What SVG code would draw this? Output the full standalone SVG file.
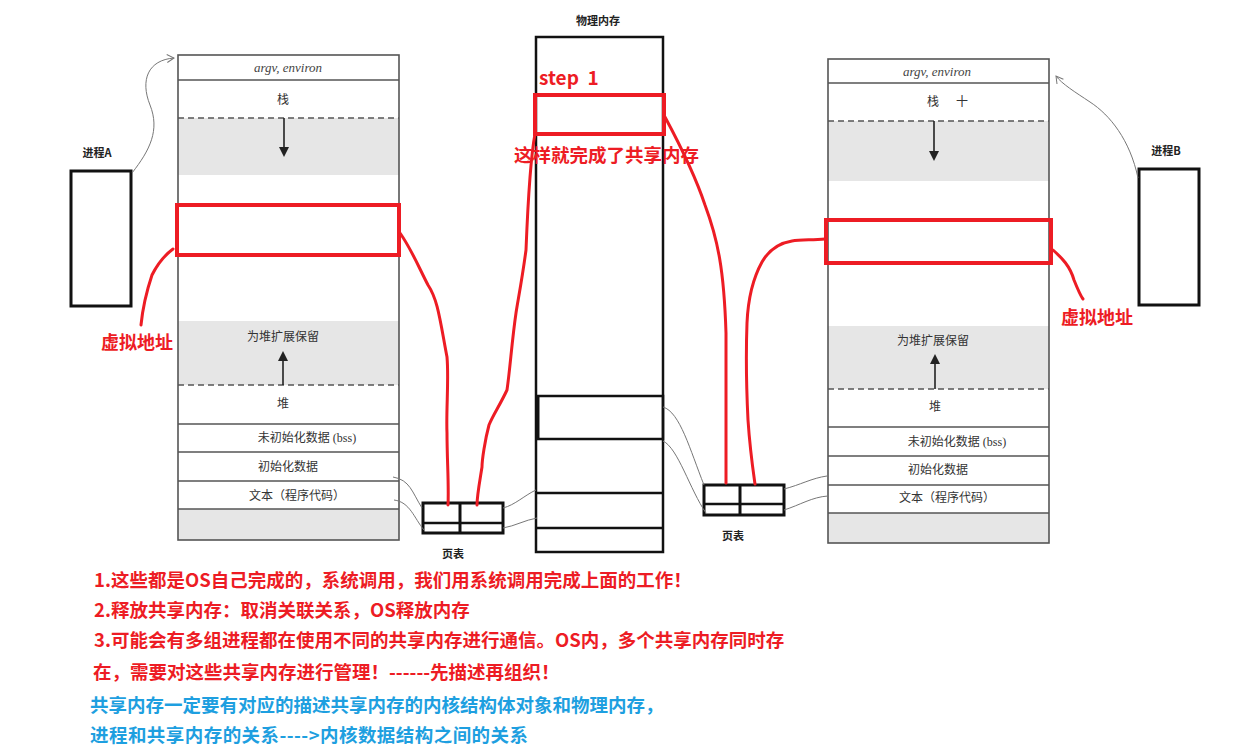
<svg xmlns="http://www.w3.org/2000/svg" width="1236" height="750" viewBox="0 0 1236 750">
<style>
.col{fill:none;stroke:#555;stroke-width:1.6}
.row{stroke:#555;stroke-width:1.6}
.gray{fill:#e6e6e6}
.dash{stroke:#555;stroke-width:1.6;stroke-dasharray:6 4}
.arr{stroke:#222;stroke-width:1.6}
.mt{font-family:"Liberation Serif","Noto Sans CJK SC",serif;font-size:12px;fill:#333;text-anchor:middle}
.it{font-family:"Liberation Serif",serif;font-style:italic;font-size:13px;fill:#444;text-anchor:middle}
.lbl{font-family:"Noto Sans CJK SC",sans-serif;font-size:11px;font-weight:bold;fill:#222;text-anchor:middle}
.redbox{fill:none;stroke:#ED1C24;stroke-width:4}
.red{fill:none;stroke:#ED1C24;stroke-width:3;stroke-linecap:round;stroke-linejoin:round}
.thin{fill:none;stroke:#777;stroke-width:1}
.blk{fill:none;stroke:#111;stroke-width:3}
.rt{font-family:"Noto Sans CJK SC",sans-serif;font-weight:bold;fill:#ED1C24}
.bt{font-family:"Noto Sans CJK SC",sans-serif;font-weight:bold;fill:#1E9FE0}
</style>
<defs>
<marker id="open" markerWidth="10" markerHeight="10" refX="8" refY="5" orient="auto" markerUnits="userSpaceOnUse">
<path d="M1,1 L8,5 L1,9" fill="none" stroke="#777" stroke-width="1"/>
</marker>
<marker id="tri" markerWidth="10" markerHeight="10" refX="5" refY="5" orient="auto" markerUnits="userSpaceOnUse">
<path d="M0,0 L10,5 L0,10 Z" fill="#222"/>
</marker>
</defs>
<rect width="1236" height="750" fill="#fff"/>

<g id="memA">
<rect class="gray" x="178" y="118" width="221" height="57"/>
<rect class="gray" x="178" y="321" width="221" height="64"/>
<rect class="gray" x="178" y="509" width="221" height="31"/>
<rect class="col" x="178" y="55" width="221" height="485"/>
<line class="row" x1="178" y1="80" x2="399" y2="80"/>
<line class="dash" x1="178" y1="118" x2="399" y2="118"/>
<line class="dash" x1="178" y1="385" x2="399" y2="385"/>
<line class="row" x1="178" y1="424" x2="399" y2="424"/>
<line class="row" x1="178" y1="452" x2="399" y2="452"/>
<line class="row" x1="178" y1="481" x2="399" y2="481"/>
<line class="row" x1="178" y1="509" x2="399" y2="509"/>
<line class="arr" x1="284" y1="118" x2="284" y2="152" marker-end="url(#tri)"/>
<line class="arr" x1="283" y1="385" x2="283" y2="356" marker-end="url(#tri)"/>
<text class="it" x="288" y="72">argv, environ</text>
<text class="mt" x="283" y="104">栈</text>
<text class="mt" x="283" y="341">为堆扩展保留</text>
<text class="mt" x="283" y="408">堆</text>
<text class="mt" x="307" y="442">未初始化数据 (bss)</text>
<text class="mt" x="288" y="471">初始化数据</text>
<text class="mt" x="297" y="500">文本（程序代码）</text>
<rect class="redbox" x="177" y="205" width="222" height="50"/>
</g>

<g id="memB">
<rect class="gray" x="828" y="121" width="221" height="60"/>
<rect class="gray" x="828" y="326" width="221" height="63"/>
<rect class="gray" x="828" y="513" width="221" height="30"/>
<rect class="col" x="828" y="59" width="221" height="484"/>
<line class="row" x1="828" y1="83" x2="1049" y2="83"/>
<line class="dash" x1="828" y1="121" x2="1049" y2="121"/>
<line class="dash" x1="828" y1="389" x2="1049" y2="389"/>
<line class="row" x1="828" y1="427" x2="1049" y2="427"/>
<line class="row" x1="828" y1="456" x2="1049" y2="456"/>
<line class="row" x1="828" y1="485" x2="1049" y2="485"/>
<line class="row" x1="828" y1="513" x2="1049" y2="513"/>
<line class="arr" x1="934" y1="121" x2="934" y2="156" marker-end="url(#tri)"/>
<line class="arr" x1="935" y1="389" x2="935" y2="359" marker-end="url(#tri)"/>
<text class="it" x="937" y="76">argv, environ</text>
<text class="mt" x="933" y="106">栈</text>
<text class="mt" x="962" y="106">十</text>
<text class="mt" x="933" y="345">为堆扩展保留</text>
<text class="mt" x="935" y="411">堆</text>
<text class="mt" x="957" y="446">未初始化数据 (bss)</text>
<text class="mt" x="938" y="474">初始化数据</text>
<text class="mt" x="947" y="502">文本（程序代码）</text>
<rect class="redbox" x="826" y="220" width="225" height="43"/>
</g>

<g id="phys">
<text class="lbl" x="598" y="25">物理内存</text>
<rect x="536" y="37" width="127" height="515" fill="none" stroke="#111" stroke-width="2.5"/>
<rect x="537" y="396" width="126" height="43" fill="none" stroke="#111" stroke-width="2.5"/>
<line x1="538" y1="396" x2="538" y2="439" stroke="#111" stroke-width="3"/>
<line x1="536" y1="493" x2="663" y2="493" stroke="#111" stroke-width="2.5"/>
<line x1="536" y1="528" x2="663" y2="528" stroke="#111" stroke-width="2.5"/>
<rect class="redbox" x="535" y="95" width="129" height="39"/>
<text class="rt" x="539" y="85" font-size="19" font-family="Liberation Sans,Noto Sans CJK SC,sans-serif" xml:space="preserve">step  1</text>
<text class="rt" x="514" y="162" font-size="18.5">这样就完成了共享内存</text>
</g>

<g id="procA">
<text class="lbl" x="97" y="157">进程A</text>
<rect class="blk" x="71" y="171" width="60" height="135"/>
</g>

<g id="procB">
<text class="lbl" x="1166" y="155">进程B</text>
<rect class="blk" x="1139" y="169" width="60" height="136"/>
</g>

<g id="ptA">
<rect class="blk" x="423" y="503" width="80" height="30"/>
<line x1="460" y1="503" x2="460" y2="533" stroke="#111" stroke-width="3"/>
<line x1="423" y1="523" x2="503" y2="523" stroke="#111" stroke-width="2.5"/>
<text class="lbl" x="453" y="558">页表</text>
</g>

<g id="ptB">
<rect class="blk" x="704" y="485" width="80" height="30"/>
<line x1="740" y1="485" x2="740" y2="515" stroke="#111" stroke-width="3"/>
<line x1="704" y1="504" x2="784" y2="504" stroke="#111" stroke-width="2.5"/>
<text class="lbl" x="733" y="540">页表</text>
</g>

<g id="connectors">
<path class="thin" d="M132,173 C150,150 160,130 150,105 C140,80 148,60 174,58" marker-end="url(#open)"/>
<path class="thin" d="M1138,178 C1130,140 1110,115 1090,102 C1075,92 1062,84 1056,76" marker-end="url(#open)"/>
<path class="thin" d="M393,477 C410,480 412,492 422,508"/>
<path class="thin" d="M394,500 C410,502 414,518 424,530"/>
<path class="thin" d="M503,508 C515,505 525,495 536,490"/>
<path class="thin" d="M503,528 C515,526 525,520 537,518"/>
<path class="thin" d="M663,407 C680,412 690,450 704,485"/>
<path class="thin" d="M663,441 C678,448 690,490 706,513"/>
<path class="thin" d="M784,489 C800,485 812,478 827,476"/>
<path class="thin" d="M784,510 C800,505 812,497 828,496"/>
<path class="red" d="M400,233 C412,250 420,270 428,285 C438,300 440,320 447,357 C449,380 446,410 447,433 C447,460 449,485 448,505"/>
<path class="red" d="M535,134 C530,160 528,200 526,250 C522,280 518,300 516,313 C512,340 510,370 507,390 C500,405 493,415 489,425 C485,440 482,460 482,467 C480,480 477,495 477,505"/>
<path class="red" d="M665,117 C680,145 695,175 705,205 C718,240 724,270 726,333 C726,400 726,450 726,483"/>
<path class="red" d="M825,239 C810,240 800,240 792,241 C780,243 770,248 762,262 C752,280 748,300 747,323 C746,350 746,380 748,420 C750,450 753,470 755,484"/>
<path class="red" d="M173,249 C165,255 158,263 152,275 C147,290 143,305 141,325"/>
<path class="red" d="M1053,250 C1062,258 1070,266 1074,280 C1078,290 1080,295 1083,299"/>
</g>

<g id="labels">
<text class="rt" x="101" y="349" font-size="18">虚拟地址</text>
<text class="rt" x="1061" y="324" font-size="18">虚拟地址</text>
</g>

<g id="notes">
<text class="rt" x="94" y="587" font-size="18.5">1.这些都是OS自己完成的，系统调用，我们用系统调用完成上面的工作！</text>
<text class="rt" x="94" y="617" font-size="18.5">2.释放共享内存：取消关联关系，OS释放内存</text>
<text class="rt" x="94" y="647" font-size="18.5">3.可能会有多组进程都在使用不同的共享内存进行通信。OS内，多个共享内存同时存</text>
<text class="rt" x="93" y="679" font-size="18.5">在，需要对这些共享内存进行管理！------先描述再组织！</text>
<text class="bt" x="90" y="712" font-size="18.5">共享内存一定要有对应的描述共享内存的内核结构体对象和物理内存，</text>
<text class="bt" x="90" y="742" font-size="18.5" textLength="438" lengthAdjust="spacing">进程和共享内存的关系----&gt;内核数据结构之间的关系</text>
</g>
</svg>
